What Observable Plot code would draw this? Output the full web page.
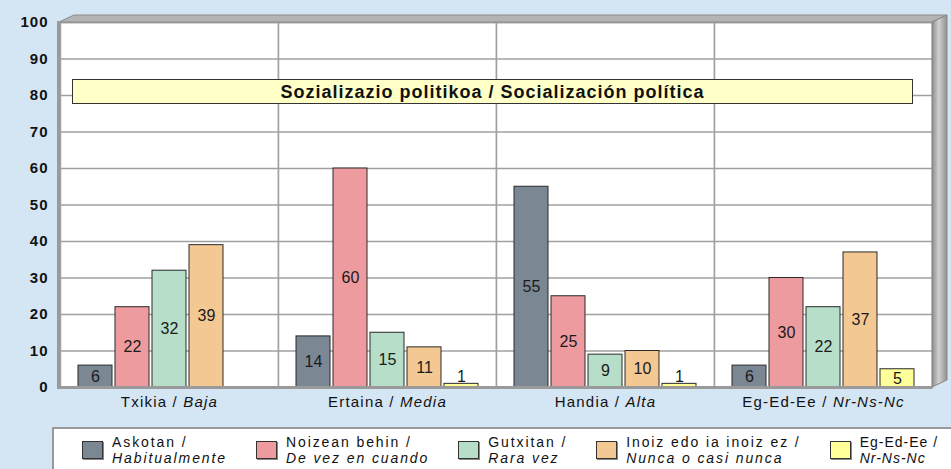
<!DOCTYPE html>
<html>
<head>
<meta charset="utf-8">
<script src="https://cdn.jsdelivr.net/npm/d3@7"></script>
<script src="https://cdn.jsdelivr.net/npm/@observablehq/plot@0.6"></script>
<style>
  html, body { margin: 0; padding: 0; }
  body { width: 951px; height: 469px; overflow: hidden; background: #d4e5f4;
         font-family: "Liberation Sans", Arial, sans-serif; position: relative; }
  #chart { position: absolute; left: 0; top: 0; }
  #title { position: absolute; left: 72px; top: 79px; width: 841px; height: 25px; box-sizing: border-box;
           background: #ffffc8; border: 1px solid #333; text-align: center; font-weight: bold;
           font-size: 18px; letter-spacing: 1px; line-height: 23px; padding-top: 1px; color: #111; }
  #legend { position: absolute; left: 52px; top: 427px; width: 940px; height: 60px; box-sizing: border-box;
            background: #fff; border-top: 2px solid #999; border-left: 2px solid #999;
            display: flex; gap: 29px; padding: 4.5px 0 0 28px; }
  .item { display: flex; align-items: center; gap: 9px; height: 33px; }
  .sw { width: 19px; height: 16px; border: 1px solid #333; box-shadow: 1px 1px 0 #888; flex: none; }
  .lbl { font-size: 14px; line-height: 16.5px; letter-spacing: 1.9px; color: #111; white-space: nowrap; }
  .item:last-child .lbl { letter-spacing: 1px; }
  .lbl i { font-style: italic; }
  g[aria-label="y-axis tick label"] text { font-weight: bold; letter-spacing: 1px; }
  g[aria-label="fx-axis tick label"] text { letter-spacing: 1.2px; }
</style>
</head>
<body>
<div id="chart"></div>
<div id="title"></div>
<div id="legend"></div>
<script>
// ---- data ----
const titleText = "Sozializazio politikoa / Socialización política";
const catEu = ["Txikia", "Ertaina", "Handia", "Eg-Ed-Ee"];
const catEs = ["Baja", "Media", "Alta", "Nr-Ns-Nc"];
const seriesEu = ["Askotan /", "Noizean behin /", "Gutxitan /", "Inoiz edo ia inoiz ez /", "Eg-Ed-Ee /"];
const seriesEs = ["Habitualmente", "De vez en cuando", "Rara vez", "Nunca o casi nunca", "Nr-Ns-Nc"];
const valAskotan = [6, 14, 55, 6];
const valNoizean = [22, 60, 25, 30];
const valGutxitan = [32, 15, 9, 22];
const valInoiz = [39, 11, 10, 37];
const valEgEdEe = [null, 1, 1, 5];
const yTicks = [0, 10, 20, 30, 40, 50, 60, 70, 80, 90, 100];
const palette = ["#7b8893", "#ee9b9f", "#b6dec9", "#f4c892", "#ffff99"];

// ---- build table ----
const catKeys = catEu.map((c, i) => c + " / " + catEs[i]);
const seriesVals = [valAskotan, valNoizean, valGutxitan, valInoiz, valEgEdEe];
const data = [];
catKeys.forEach((c, ci) => seriesEu.forEach((s, si) => {
  const v = seriesVals[si][ci];
  if (v != null) data.push({cat: c, series: s, value: v});
}));

const W = 951, H = 420;
const mL = 59, mR = 19, mT = 22, mB = 33;

const plot = Plot.plot({
  width: W, height: H,
  marginLeft: mL, marginRight: mR, marginTop: mT, marginBottom: mB,
  facet: {marginTop: 0, marginBottom: 0, marginLeft: 0, marginRight: 0},
  style: {fontFamily: '"Liberation Sans", Arial, sans-serif', fontSize: "15px", background: "transparent", color: "#111", overflow: "visible"},
  fx: {domain: catKeys, padding: 0, axis: "bottom", label: null, tickSize: 0, tickPadding: 9},
  x: {domain: seriesEu, paddingInner: 0.08, paddingOuter: 0.41, axis: null},
  y: {domain: [0, 100], ticks: yTicks, tickSize: 0, tickPadding: 12, label: null, tickFormat: d => d},
  color: {domain: seriesEu, range: palette},
  marks: [
    Plot.frame({fill: "white", stroke: "#a0a0a0", strokeWidth: 1.5}),
    Plot.ruleY(yTicks, {stroke: "#a0a0a0", strokeWidth: 1.5}),
    Plot.barY(data, {fx: "cat", x: "series", y: "value", fill: "series", stroke: "#2a2a2a", strokeWidth: 1, inset: 0}),
    Plot.text(data.filter(d => d.value >= 3), {fx: "cat", x: "series", y: d => d.value / 2, text: "value", fontSize: 16, fill: "#1a1a1a"}),
    Plot.text(data.filter(d => d.value < 3), {fx: "cat", x: "series", y: "value", text: "value", fontSize: 16, fill: "#1a1a1a", lineAnchor: "bottom", dy: -2})
  ]
});
document.getElementById("chart").appendChild(plot);

// mixed regular / italic category labels
d3.select(plot).selectAll('g[aria-label="fx-axis tick label"] text').each(function() {
  const i = catKeys.indexOf(this.textContent);
  if (i < 0) return;
  const sel = d3.select(this);
  sel.text(null);
  sel.append("tspan").text(catEu[i] + " / ");
  sel.append("tspan").attr("font-style", "italic").text(catEs[i]);
});

// 3D frame decorations
const svg = d3.select(plot);
const L = mL, R = W - mR, T = mT, B = H - mB, dx = 15, dy = 7;
const defs = svg.append("defs");
const g1 = defs.append("linearGradient").attr("id", "wallGrad").attr("x1", 0).attr("x2", 1).attr("y1", 0).attr("y2", 0);
g1.append("stop").attr("offset", "0%").attr("stop-color", "#8a8a8a");
g1.append("stop").attr("offset", "45%").attr("stop-color", "#d0d0d0");
g1.append("stop").attr("offset", "100%").attr("stop-color", "#909090");
const deco = svg.append("g");
deco.append("path").attr("d", `M${L},${T}L${L + dx},${T - dy}L${R + dx},${T - dy}L${R},${T}Z`)
  .attr("fill", "#b4b4b4").attr("stroke", "#8c8c8c").attr("stroke-width", 1);
deco.append("path").attr("d", `M${R},${T}L${R + dx},${T - dy}L${R + dx},${B - dy}L${R},${B}Z`)
  .attr("fill", "url(#wallGrad)").attr("stroke", "#888").attr("stroke-width", 1);
deco.append("line").attr("x1", L - 0.5).attr("x2", L - 0.5).attr("y1", T - 1).attr("y2", B + 2)
  .attr("stroke", "#9a9a9a").attr("stroke-width", 3);
deco.append("line").attr("x1", L - 2).attr("x2", R).attr("y1", B + 0.5).attr("y2", B + 0.5)
  .attr("stroke", "#9a9a9a").attr("stroke-width", 3);

// title
document.getElementById("title").textContent = titleText;

// legend
const leg = d3.select("#legend");
seriesEu.forEach((s, i) => {
  const it = leg.append("div").attr("class", "item");
  it.append("span").attr("class", "sw").style("background", palette[i]);
  const lb = it.append("div").attr("class", "lbl");
  lb.append("div").text(s);
  lb.append("div").append("i").text(seriesEs[i]);
});
</script>
</body>
</html>
